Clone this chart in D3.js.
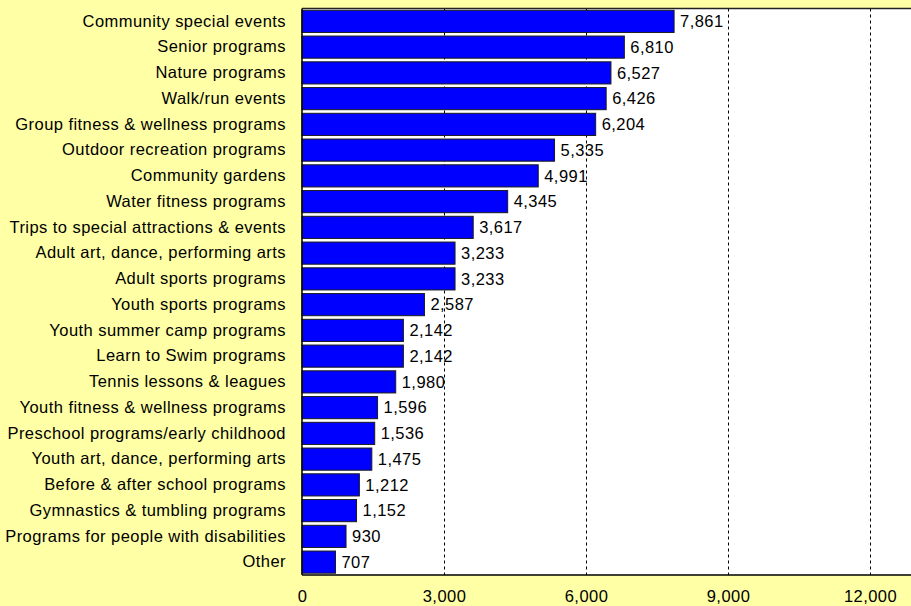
<!DOCTYPE html>
<html><head><meta charset="utf-8">
<script src="https://cdn.jsdelivr.net/npm/d3@7"></script>
<style>html,body{margin:0;padding:0;background:#FFFFA6;}svg{display:block;}</style>
</head><body>
<svg id="c" width="911" height="606"></svg>
<script>
const categories = ["Community special events","Senior programs","Nature programs","Walk/run events","Group fitness & wellness programs","Outdoor recreation programs","Community gardens","Water fitness programs","Trips to special attractions & events","Adult art, dance, performing arts","Adult sports programs","Youth sports programs","Youth summer camp programs","Learn to Swim programs","Tennis lessons & leagues","Youth fitness & wellness programs","Preschool programs/early childhood","Youth art, dance, performing arts","Before & after school programs","Gymnastics & tumbling programs","Programs for people with disabilities","Other"];
const values = [7861,6810,6527,6426,6204,5335,4991,4345,3617,3233,3233,2587,2142,2142,1980,1596,1536,1475,1212,1152,930,707];
const tickValues = [0,3000,6000,9000,12000];

(function(){
const svg = d3.select("#c");
const pLeft = 302, pTop = 8.5, pBottom = 575, pRight = 911;
const x = d3.scaleLinear().domain([0,12000]).range([pLeft, 870]);
const y = d3.scaleBand().domain(categories).range([pTop, pBottom]).paddingInner(0.14).paddingOuter(0.07);
const font = "Liberation Sans, Arial, sans-serif";
const fs = 16.5, ls = "0.45px";

svg.append("rect").attr("x",pLeft).attr("y",pTop).attr("width",pRight-pLeft).attr("height",pBottom-pTop).attr("fill","#fff");

svg.append("g").selectAll("line").data(tickValues.filter(d=>d>0)).join("line")
  .attr("x1",d=>Math.round(x(d))+0.5).attr("x2",d=>Math.round(x(d))+0.5)
  .attr("y1",pTop).attr("y2",pBottom)
  .attr("stroke","#000").attr("stroke-width",1).attr("stroke-dasharray","3,3");

svg.append("g").selectAll("rect").data(values).join("rect")
  .attr("x",x(0)).attr("y",(d,i)=>y(categories[i]))
  .attr("width",d=>x(d)-x(0)).attr("height",y.bandwidth())
  .attr("fill","#0000FF").attr("stroke","#1a1a1a").attr("stroke-width",1);

svg.append("g").selectAll("text").data(values).join("text")
  .attr("x",d=>x(d)+6).attr("y",(d,i)=>y(categories[i])+y.bandwidth()/2)
  .attr("dy","0.35em").attr("font-family",font).attr("font-size",fs).attr("letter-spacing",ls).attr("fill","#000")
  .text(d=>d3.format(",")(d));

const yAxis = d3.axisLeft(y).tickSize(0).tickPadding(16);
const gy = svg.append("g").attr("transform",`translate(${pLeft},0)`).call(yAxis);
gy.select(".domain").remove();
gy.selectAll("text").attr("font-family",font).attr("font-size",fs).attr("letter-spacing",ls).attr("fill","#000");

const xAxis = d3.axisBottom(x).tickValues(tickValues).tickSize(0).tickPadding(15).tickFormat(d3.format(","));
const gx = svg.append("g").attr("transform",`translate(0,${pBottom})`).call(xAxis);
gx.select(".domain").remove();
gx.selectAll("text").attr("font-family",font).attr("font-size",fs).attr("letter-spacing",ls).attr("fill","#000");

svg.append("line").attr("x1",pLeft).attr("x2",pRight).attr("y1",pTop).attr("y2",pTop).attr("stroke","#222").attr("stroke-width",1.5);
svg.append("line").attr("x1",pLeft).attr("x2",pRight).attr("y1",pBottom).attr("y2",pBottom).attr("stroke","#000").attr("stroke-width",1.5);
svg.append("line").attr("x1",pLeft).attr("x2",pLeft).attr("y1",pTop).attr("y2",pBottom).attr("stroke","#000").attr("stroke-width",1.5);
})();
</script>
</body></html>
